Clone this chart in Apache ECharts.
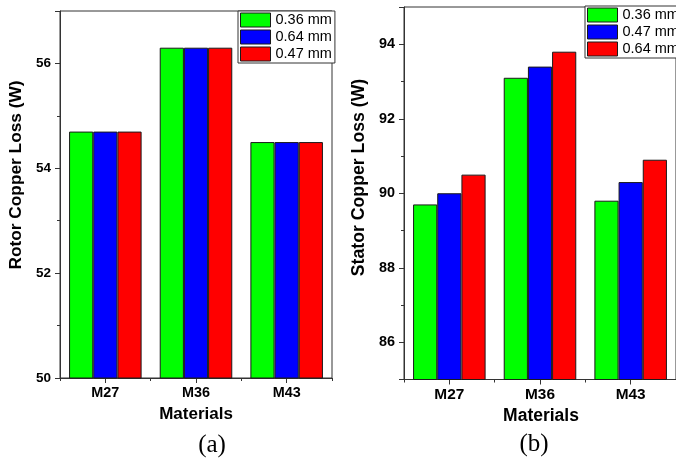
<!DOCTYPE html>
<html><head><meta charset="utf-8">
<script src="https://cdn.jsdelivr.net/npm/echarts@6/dist/echarts.min.js"></script>
<style>html,body{margin:0;padding:0;background:#fff}#c{width:676px;height:459px}</style>
</head><body><div id="c"></div>
<script>
// ---- data ----
const categories = ['M27', 'M36', 'M43'];
const rotorNames = ['0.36 mm', '0.64 mm', '0.47 mm'];
const rotor036 = [54.7, 56.3, 54.5];
const rotor064 = [54.7, 56.3, 54.5];
const rotor047 = [54.7, 56.3, 54.5];
const statorNames = ['0.36 mm', '0.47 mm', '0.64 mm'];
const stator036 = [89.7, 93.1, 89.8];
const stator047 = [90.0, 93.4, 90.3];
const stator064 = [90.5, 93.8, 90.9];
const rotorTickLabels = ['50', '52', '54', '56'];
const statorTickLabels = ['86', '88', '90', '92', '94'];

// ---- style ----
const FONT = '"Liberation Sans", Arial, sans-serif';
const SERIF = '"Liberation Serif", "Times New Roman", serif';
const FRAME = '#333';
const EDGE = '#1a1a1a';
const colors = ['#00ff00', '#0000ff', '#ff0000'];

function bar(name, data, color, idx) {
  return {
    type: 'bar', name, data, xAxisIndex: idx, yAxisIndex: idx,
    barGap: '0%', barCategoryGap: '20%', silent: true,
    itemStyle: { color, borderColor: EDGE, borderWidth: 1 }
  };
}
function mainX(grid, fs) {
  return {
    gridIndex: grid, type: 'category', data: categories,
    axisLine: { show: true, lineStyle: { color: FRAME, width: 1 } },
    axisTick: { show: true, alignWithLabel: true, length: 5, lineStyle: { color: FRAME } },
    axisLabel: { fontFamily: FONT, fontWeight: 'bold', fontSize: fs, color: '#000', margin: 8 },
    splitLine: { show: false }
  };
}
function minorX(grid) {
  return {
    gridIndex: grid, type: 'category', data: categories, position: 'bottom',
    axisLine: { show: false },
    axisTick: { show: true, length: 3, lineStyle: { color: FRAME } },
    axisLabel: { show: false }, splitLine: { show: false }
  };
}
function mainY(grid, min, max, interval, labels, fs) {
  const o = {
    gridIndex: grid, type: 'value', min, max, position: 'left',
    axisLine: { show: true, lineStyle: { color: FRAME, width: 1 } },
    axisTick: { show: true, length: 5, lineStyle: { color: FRAME } },
    axisLabel: {
      fontFamily: FONT, fontWeight: 'bold', fontSize: fs, color: '#000', margin: 9,
      showMinLabel: true, showMaxLabel: true,
      formatter: v => labels.includes(String(v)) ? String(v) : ''
    },
    splitLine: { show: false }
  };
  if (interval != null) o.interval = interval;
  return o;
}
function minorY(grid, min, max) {
  return {
    gridIndex: grid, type: 'value', min, max, interval: 1, position: 'left',
    axisLine: { show: false },
    axisTick: { show: true, length: 3, lineStyle: { color: FRAME } },
    axisLabel: { show: false }, splitLine: { show: false }
  };
}
function legend(left, top, names) {
  return {
    left, top, orient: 'vertical', icon: 'rect', selectedMode: false,
    itemWidth: 30, itemHeight: 14, itemGap: 2,
    padding: [1.5, 3, 1.5, 2], borderColor: FRAME, borderWidth: 1, borderRadius: 0,
    backgroundColor: '#fff',
    textStyle: { fontFamily: FONT, fontSize: 14.5, color: '#000' },
    itemStyle: { borderColor: EDGE, borderWidth: 1 },
    data: names.map((n, i) => ({ name: n, itemStyle: { color: colors[i], borderColor: EDGE, borderWidth: 1 } }))
  };
}
function txt(x, y, text, font, rot) {
  return {
    type: 'text', x, y, rotation: rot || 0, silent: true,
    style: { text, font, fill: '#000', align: 'center', verticalAlign: 'middle' }
  };
}

const chart = echarts.init(document.getElementById('c'), null, { renderer: 'canvas' });
chart.setOption({
  animation: false,
  backgroundColor: '#fff',
  grid: [
    { left: 60, top: 11, width: 272, height: 367, show: true, borderColor: FRAME, borderWidth: 1 },
    { left: 404, top: 7, width: 274, height: 372.5, show: true, borderColor: FRAME, borderWidth: 1 }
  ],
  xAxis: [mainX(0, 14.4), minorX(0), mainX(1, 15.4), minorX(1)],
  yAxis: [
    mainY(0, 50, 57, 2, rotorTickLabels, 13.5), minorY(0, 50, 57),
    mainY(1, 85, 95, null, statorTickLabels, 14.4), minorY(1, 85, 95)
  ],
  legend: [legend(238, 11, rotorNames), legend(585, 6, statorNames)],
  series: [
    bar(rotorNames[0], rotor036, colors[0], 0),
    bar(rotorNames[1], rotor064, colors[1], 0),
    bar(rotorNames[2], rotor047, colors[2], 0),
    bar(statorNames[0], stator036, colors[0], 2),
    bar(statorNames[1], stator047, colors[1], 2),
    bar(statorNames[2], stator064, colors[2], 2)
  ],
  graphic: [
    txt(16, 175, 'Rotor Copper Loss (W)', 'bold 17.3px ' + FONT, Math.PI / 2),
    txt(359, 177.5, 'Stator Copper Loss (W)', 'bold 17.7px ' + FONT, Math.PI / 2),
    txt(196, 414, 'Materials', 'bold 17px ' + FONT),
    txt(541, 416, 'Materials', 'bold 17.5px ' + FONT),
    txt(212, 445, '(a)', '25px ' + SERIF),
    txt(534, 444, '(b)', '25px ' + SERIF)
  ]
});
</script></body></html>
